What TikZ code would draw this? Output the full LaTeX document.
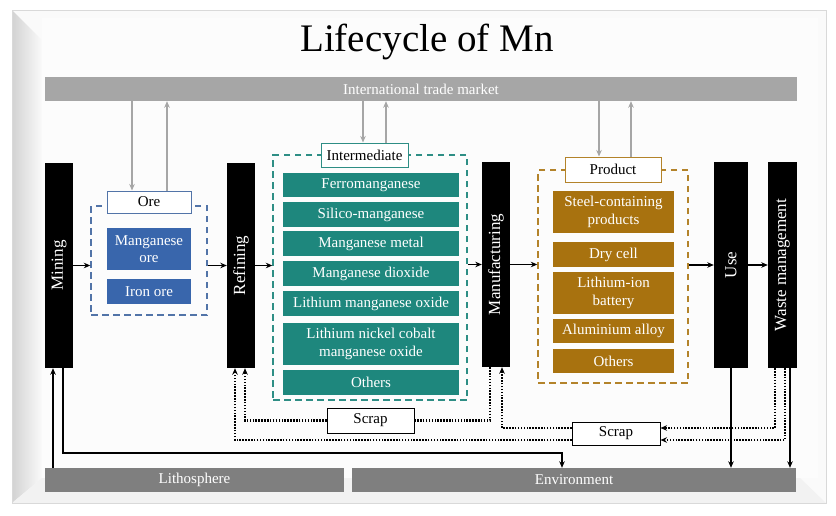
\documentclass[tikz,border=0pt]{standalone}
\usepackage{fontspec}
\setmainfont{Liberation Serif}
\usepackage{graphicx}
\usepackage{xcolor}
\usetikzlibrary{arrows.meta,positioning}

\definecolor{oreblue}{HTML}{3966AC}
\definecolor{oredash}{HTML}{5274A8}
\definecolor{midteal}{HTML}{1E877D}
\definecolor{middash}{HTML}{2E8E85}
\definecolor{prodbrown}{HTML}{A8720F}
\definecolor{proddash}{HTML}{B3832A}
\definecolor{tradegray}{HTML}{A6A6A6}
\definecolor{earthgray}{HTML}{7F7F7F}

\begin{document}
\begin{tikzpicture}[
			x=1pt,y=-1pt,
			>={Stealth[length=6.5pt,width=5.5pt]},
			stage/.style={
				fill=black,
				text=white,
				minimum width=28pt,
				minimum height=205pt,
				inner sep=0pt,
				font=\fontsize{17}{19}\selectfont
			},
			band/.style={
				fill=#1,
				text=white,
				minimum height=24pt,
				inner sep=0pt,
				font=\fontsize{15}{17}\selectfont
			},
			group/.style={
				draw=#1,
				line width=1.4pt,
				dash pattern=on 6.5pt off 4.5pt,
				inner sep=0pt
			},
			tag/.style={
				draw=#1,
				line width=1pt,
				fill=white,
				inner sep=0pt,
				minimum height=24pt,
				font=\fontsize{15}{17}\selectfont
			},
			item/.style={
				fill=#1,
				text=white,
				inner sep=0pt,
				align=center,
				minimum height=25pt,
				font=\fontsize{15}{17.5}\selectfont
			},
			scrapbox/.style={
				draw=black,
				line width=1pt,
				fill=white,
				inner sep=0pt,
				minimum width=87pt,
				minimum height=24pt,
				font=\fontsize{15}{17}\selectfont
			},
			flow/.style={->, line width=1.4pt},
			tradeflow/.style={->, draw=tradegray, line width=1.8pt},
			scrapflow/.style={line width=2.2pt, dash pattern=on 1.5pt off 1.4pt}
			]
			\useasboundingbox (0,0) rectangle (836,515);
			% frame
			\fill[white] (0,0) rectangle (836,515);
			\fill[gray!4] (12,10) rectangle (826,503);
			\shade[left color=gray!35, right color=gray!4] (12,10) -- (42,40) -- (42,478) -- (12,503) -- cycle;
			\fill[gray!10] (12,503) -- (42,478) -- (800,478) -- (826,503) -- cycle;
			\fill[gray!2] (42,18) rectangle (818,478);
			\draw[gray!30] (12,10) rectangle (826,503);

			% title
			\node[font=\fontsize{39}{42}\selectfont] (title) at (427,42) {Lifecycle of Mn};

			% bands
			\node[band=tradegray, minimum width=752pt] (trade) at (421,89) {International trade market};
			\node[band=earthgray, minimum width=299pt] (litho) at (194.5,480) {Lithosphere};
			\node[band=earthgray, minimum width=444pt] (env) at (574,480) {Environment};

			% stages
			\node[stage] (mining) at (59,265.5) {\rotatebox{90}{Mining}};
			\node[stage] (refining) at (241,265.5) {\rotatebox{90}{Refining}};
			\node[stage] (manuf) at (496,264.5) {\rotatebox{90}{Manufacturing}};
			\node[stage, minimum width=34pt, minimum height=206pt] (use) at (731,265) {\rotatebox{90}{Use}};
			\node[stage, minimum width=29pt, minimum height=206pt] (waste) at (782.5,265) {\rotatebox{90}{Waste management}};

			% ore group
			\node[group=oredash, minimum width=116pt, minimum height=109pt] (oregrp) at (149,260.5) {};
			\node[tag=oredash, minimum width=84pt, minimum height=22pt] (oretag) at (149,202) {Ore};
			\node[item=oreblue, minimum width=84pt, minimum height=42pt] (mnore) at (149,249) {Manganese\\ore};
			\node[item=oreblue, minimum width=84pt] (ironore) at (149,291.5) {Iron ore};

			% intermediate group
			\node[group=middash, minimum width=194pt, minimum height=245pt] (midgrp) at (370,277.5) {};
			\node[tag=middash, minimum width=87pt] (midtag) at (364.5,155) {Intermediate};
			\node[item=midteal, minimum width=176pt, minimum height=24pt] (ferro) at (371,185) {Ferromanganese};
			\node[item=midteal, minimum width=176pt] (silico) at (371,214.5) {Silico-manganese};
			\node[item=midteal, minimum width=176pt] (mnmetal) at (371,243.5) {Manganese metal};
			\node[item=midteal, minimum width=176pt] (mndiox) at (371,273.5) {Manganese dioxide};
			\node[item=midteal, minimum width=176pt] (lmo) at (371,303.5) {Lithium manganese oxide};
			\node[item=midteal, minimum width=176pt, minimum height=42pt] (ncm) at (371,344) {Lithium nickel cobalt\\manganese oxide};
			\node[item=midteal, minimum width=176pt] (midother) at (371,382.5) {Others};

			% product group
			\node[group=proddash, minimum width=150pt, minimum height=213pt] (prodgrp) at (613,276.5) {};
			\node[tag=proddash, minimum width=96pt, minimum height=25pt] (prodtag) at (613,169.5) {Product};
			\node[item=prodbrown, minimum width=121pt, minimum height=42pt] (steel) at (613.5,212) {Steel-containing\\products};
			\node[item=prodbrown, minimum width=121pt] (drycell) at (613.5,254.5) {Dry cell};
			\node[item=prodbrown, minimum width=121pt, minimum height=42pt] (liion) at (613.5,293) {Lithium-ion\\battery};
			\node[item=prodbrown, minimum width=121pt, minimum height=24pt] (alloy) at (613.5,331) {Aluminium alloy};
			\node[item=prodbrown, minimum width=121pt, minimum height=24pt] (prodother) at (613.5,361) {Others};

			% scrap
			\node[scrapbox, minimum height=25pt] (scrapA) at (370.5,420.5) {Scrap};
			\node[scrapbox, minimum width=88pt, minimum height=23pt] (scrapB) at (616,433.5) {Scrap};

			% main chain
			\draw[flow] (mining.east) -- (mining.east -| oregrp.west);
			\draw[flow] (oregrp.east |- refining.west) -- (refining.west);
			\draw[flow] (refining.east) -- (refining.east -| midgrp.west);
			\draw[flow] (midgrp.east |- manuf.west) -- (manuf.west);
			\draw[flow] (manuf.east) -- (manuf.east -| prodgrp.west);
			\draw[flow] (prodgrp.east |- use.west) -- (use.west);
			\draw[flow] (use) -- (waste);

			% trade market
			\coordinate (oreDown) at ([xshift=-17pt]oretag.north);
			\coordinate (oreUp) at ([xshift=18pt]oretag.north);
			\coordinate (midDown) at ([xshift=-1.5pt]midtag.north);
			\coordinate (midUp) at ([xshift=21.5pt]midtag.north);
			\coordinate (prodDown) at ([xshift=-14pt]prodtag.north);
			\coordinate (prodUp) at ([xshift=18pt]prodtag.north);
			\draw[tradeflow] (oreDown |- trade.south) -- (oreDown);
			\draw[tradeflow] (oreUp) -- (oreUp |- trade.south);
			\draw[tradeflow] (midDown |- trade.south) -- (midDown);
			\draw[tradeflow] (midUp) -- (midUp |- trade.south);
			\draw[tradeflow] (prodDown |- trade.south) -- (prodDown);
			\draw[tradeflow] (prodUp) -- (prodUp |- trade.south);

			% scrap loops
			\coordinate (refInA) at ([xshift=4pt]refining.south);
			\coordinate (refInB) at ([xshift=-6pt]refining.south);
			\coordinate (manOut) at ([xshift=-6pt]manuf.south);
			\coordinate (manIn) at ([xshift=6pt]manuf.south);
			\coordinate (wasteOutA) at ([xshift=-7.5pt]waste.south);
			\coordinate (wasteOutB) at ([xshift=2.5pt]waste.south);
			\draw[scrapflow] (manOut) |- (scrapA.east);
			\draw[scrapflow,->] (scrapA.west) -| (refInA);
			\draw[scrapflow,->] ([yshift=5.5pt]scrapB.west) -| (manIn);
			\draw[scrapflow,->] ([yshift=-6.5pt]scrapB.west) -| (refInB);
			\draw[scrapflow,->] (wasteOutA) |- ([yshift=5.5pt]scrapB.east);
			\draw[scrapflow,->] (wasteOutB) |- ([yshift=-6.5pt]scrapB.east);

			% lithosphere and environment
			\coordinate (minIn) at ([xshift=-6pt]mining.south);
			\coordinate (minOut) at ([xshift=4pt]mining.south);
			\coordinate (envIn) at ([xshift=-12pt]env.north);
			\draw[flow] (minIn |- litho.north) -- (minIn);
			\draw[flow, line width=2.4pt] (minOut) -- ++(0,85) -| (envIn);
			\draw[flow] (use.south) -- (use.south |- env.north);
			\draw[flow] ([xshift=7.5pt]waste.south) -- ([xshift=7.5pt]waste.south |- env.north);
		\end{tikzpicture}
\end{document}
